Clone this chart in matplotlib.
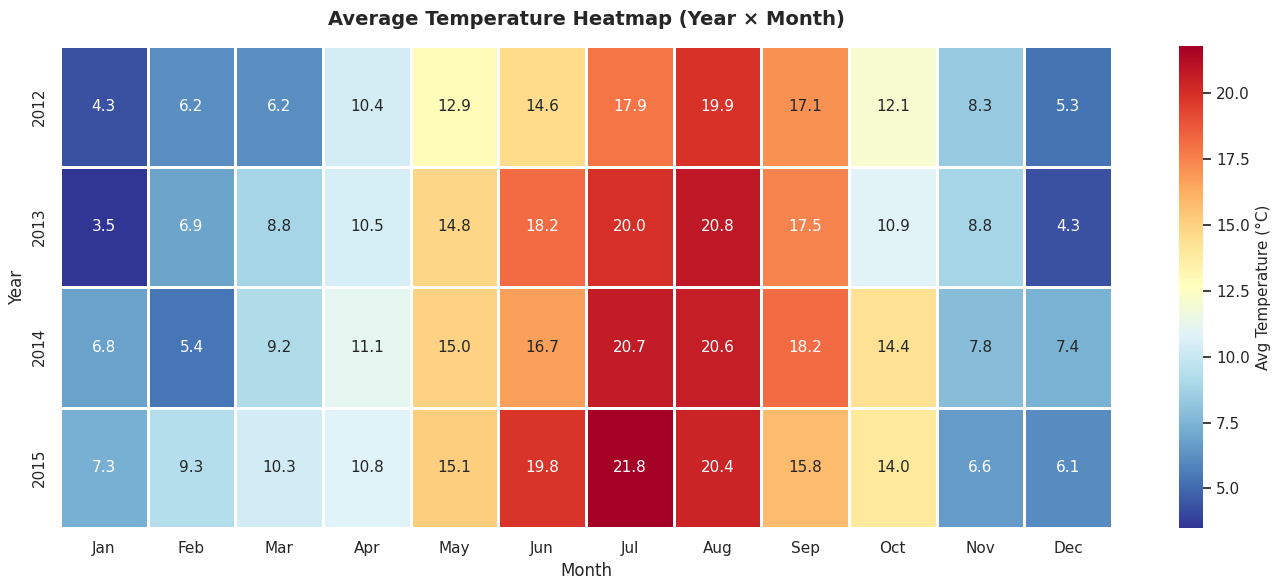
import matplotlib
matplotlib.use("Agg")
import matplotlib.pyplot as plt
import seaborn as sns
import numpy as np
import pandas as pd

years = [2012, 2013, 2014, 2015]
months = ["Jan", "Feb", "Mar", "Apr", "May", "Jun", "Jul", "Aug", "Sep", "Oct", "Nov", "Dec"]
temps_2012 = [4.3, 6.2, 6.2, 10.4, 12.9, 14.6, 17.9, 19.9, 17.1, 12.1, 8.3, 5.3]
temps_2013 = [3.5, 6.9, 8.8, 10.5, 14.8, 18.2, 20.0, 20.8, 17.5, 10.9, 8.8, 4.3]
temps_2014 = [6.8, 5.4, 9.2, 11.1, 15.0, 16.7, 20.7, 20.6, 18.2, 14.4, 7.8, 7.4]
temps_2015 = [7.3, 9.3, 10.3, 10.8, 15.1, 19.8, 21.8, 20.4, 15.8, 14.0, 6.6, 6.1]

df = pd.DataFrame([temps_2012, temps_2013, temps_2014, temps_2015], index=years, columns=months)
df.index.name = "Year"
df.columns.name = "Month"

sns.set_theme(style="white")
W, H = 1277, 587
fig = plt.figure(figsize=(W / 100, H / 100), dpi=100)
ax = fig.add_axes([60 / W, 1 - 528 / H, (1112 - 60) / W, (528 - 46) / H])
cax = fig.add_axes([1179 / W, 1 - 528 / H, (1203 - 1179) / W, (528 - 46) / H])
sns.heatmap(df, annot=True, fmt=".1f", cmap="RdYlBu_r", linewidths=2, linecolor="white",
            cbar_ax=cax, cbar_kws={"label": "Avg Temperature (°C)"}, ax=ax,
            annot_kws={"fontsize": 11})
cax.tick_params(labelsize=11)
cax.yaxis.label.set_size(11)
ax.set_title("Average Temperature Heatmap (Year × Month)", fontsize=14, fontweight="bold", pad=15)
ax.set_xlabel("Month", fontsize=12)
ax.set_ylabel("Year", fontsize=12)
ax.tick_params(axis="both", labelsize=11)
plt.setp(ax.get_xticklabels(), rotation=0)
plt.setp(ax.get_yticklabels(), rotation=90, va="center")
fig.savefig("out.png", dpi=100)
